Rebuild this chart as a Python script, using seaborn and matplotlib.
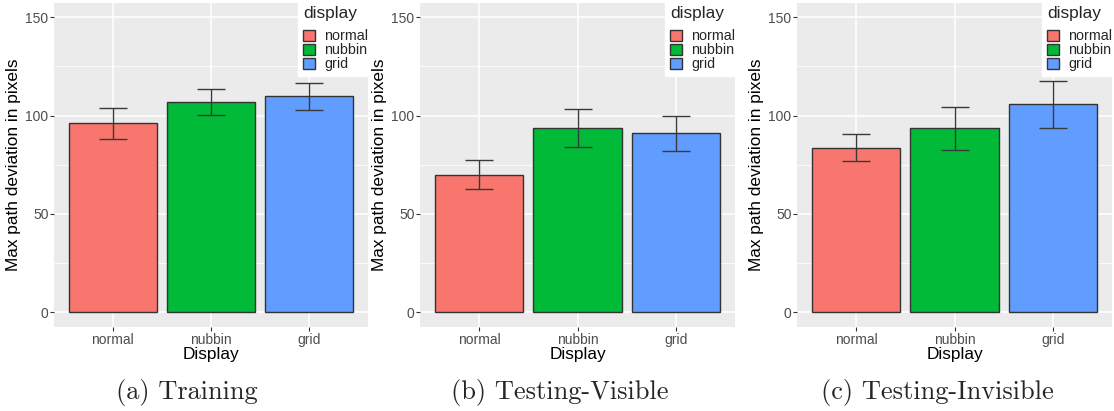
import numpy as np
import pandas as pd
import seaborn as sns
import matplotlib.pyplot as plt
from matplotlib.patches import Patch

# values
displays = ["normal", "nubbin", "grid"]
colors = ["#F8766D", "#00BA38", "#619CFF"]
captions = ["(a) Training", "(b) Testing-Visible", "(c) Testing-Invisible"]

train_mean = [96.0, 106.9, 109.9]
train_err = [7.7, 6.8, 6.9]
visible_mean = [70.0, 93.5, 90.9]
visible_err = [7.6, 9.6, 8.9]
invisible_mean = [83.7, 93.5, 105.7]
invisible_err = [6.9, 10.8, 12.1]

means = [train_mean, visible_mean, invisible_mean]
errs = [train_err, visible_err, invisible_err]

sns.set_theme(style="darkgrid")
plt.rcParams["font.family"] = ["Liberation Sans", "DejaVu Sans"]

fig = plt.figure(figsize=(11.14, 4.11), dpi=100)
W, H = 1114, 411
panels = [(54, 368), (420, 735), (797, 1112)]
cap_x = [187, 560, 937]

for i in range(3):
    left, right = panels[i]
    ax = fig.add_axes([left / W, (H - 327) / H, (right - left) / W, 324 / H])
    df = pd.DataFrame({"display": displays, "mean": means[i], "err": errs[i]})
    sns.barplot(data=df, x="display", y="mean", hue="display", palette=colors,
                order=displays, hue_order=displays, width=0.9, dodge=False,
                saturation=1, edgecolor="#333333", linewidth=1.0, legend=False, ax=ax)
    ax.errorbar(x=np.arange(3), y=df["mean"], yerr=df["err"], fmt="none",
                ecolor="#3a3a3a", elinewidth=1.0, capsize=9.8, capthick=1.0, zorder=5)
    ax.set_facecolor("#EBEBEB")
    ax.set_xlim(-0.6, 2.6)
    ax.set_ylim(-7.6, 157.3)
    ax.set_yticks([0, 50, 100, 150])
    ax.set_yticks([25, 75, 125], minor=True)
    ax.grid(True, which="major", color="white", linewidth=1.1)
    ax.grid(True, which="minor", axis="y", color="white", linewidth=0.55)
    ax.set_axisbelow(True)
    for s in ax.spines.values():
        s.set_visible(False)
    ax.tick_params(axis="both", which="major", length=2.8, width=0.8, color="#333333",
                   labelsize=10, labelcolor="#4D4D4D", pad=1.2, bottom=True, left=True)
    ax.tick_params(axis="y", which="minor", length=0)
    ax.set_xlabel("Display", fontsize=12.4, color="black", labelpad=0)
    ax.set_ylabel("Max path deviation in pixels", fontsize=12.4, color="black", labelpad=3)

    handles = [Patch(facecolor=c, edgecolor="#333333", linewidth=1.0) for c in colors]
    leg = ax.legend(handles, displays, title="display", loc="upper right",
                    bbox_to_anchor=(1.016, 1.006), frameon=True, fancybox=False,
                    framealpha=1, facecolor="white", edgecolor="white",
                    prop={"size": 10.3}, title_fontsize=12.4,
                    handlelength=0.85, handleheight=0.9, labelspacing=0.0,
                    handletextpad=0.62, borderpad=0.35, borderaxespad=0)
    leg._legend_box.align = "left"
    leg._legend_box.sep = 6

    fig.text(cap_x[i] / W, 1 - 392 / H, captions[i], ha="center", va="center",
             fontsize=19, family="cmr10")

fig.savefig("out.png", dpi=100)
